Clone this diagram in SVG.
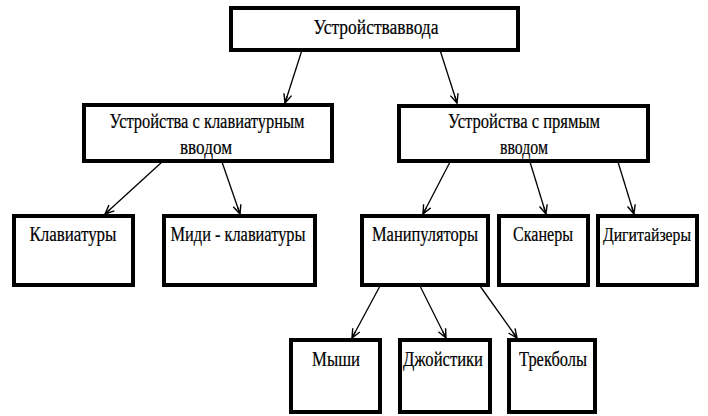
<svg xmlns="http://www.w3.org/2000/svg" width="708" height="416" viewBox="0 0 708 416">
<defs>
<style>
.box{fill:#fff;stroke:#000;stroke-width:4}
.t{font-family:'Liberation Serif',serif;font-size:20px;fill:#000;text-anchor:middle;stroke:#000;stroke-width:0.2}
.c{stroke:#000;stroke-width:1.3;fill:none;marker-end:url(#ah)}
</style>
<marker id="ah" markerWidth="12" markerHeight="10" refX="10" refY="5" orient="auto" markerUnits="userSpaceOnUse">
<path d="M1,1 L10,5 L1,9 M3,5 L10,5" fill="none" stroke="#000" stroke-width="1.4"/>
</marker>
</defs>
<rect width="708" height="416" fill="#fff"/>
<g id="connectors">
<line class="c" x1="302" y1="50" x2="285" y2="103"/>
<line class="c" x1="440" y1="50" x2="457" y2="103"/>
<line class="c" x1="162" y1="162" x2="105" y2="214"/>
<line class="c" x1="222" y1="162" x2="240" y2="214"/>
<line class="c" x1="450" y1="162" x2="423" y2="214"/>
<line class="c" x1="530" y1="162" x2="546" y2="214"/>
<line class="c" x1="618" y1="162" x2="634" y2="214"/>
<line class="c" x1="380" y1="286" x2="352" y2="338"/>
<line class="c" x1="420" y1="286" x2="446" y2="338"/>
<line class="c" x1="480" y1="286" x2="517" y2="338"/>
</g>
<g id="n-input">
<rect class="box" x="231" y="8" width="287" height="42"/>
<text class="t" x="376" y="34" textLength="125" lengthAdjust="spacingAndGlyphs">Устройстваввода</text>
</g>
<g id="n-keyboard-input">
<rect class="box" x="84" y="105" width="248" height="56"/>
<text class="t" x="207" y="128" textLength="195" lengthAdjust="spacingAndGlyphs">Устройства с клавиатурным</text>
<text class="t" x="206" y="154" textLength="52" lengthAdjust="spacingAndGlyphs">вводом</text>
</g>
<g id="n-direct-input">
<rect class="box" x="399" y="106" width="249" height="55"/>
<text class="t" x="524" y="128" textLength="152" lengthAdjust="spacingAndGlyphs">Устройства с прямым</text>
<text class="t" x="524" y="154" textLength="48" lengthAdjust="spacingAndGlyphs">вводом</text>
</g>
<g id="n-keyboards">
<rect class="box" x="14" y="216" width="119" height="69"/>
<text class="t" x="73" y="241" textLength="87" lengthAdjust="spacingAndGlyphs">Клавиатуры</text>
</g>
<g id="n-midi">
<rect class="box" x="164" y="216" width="151" height="69"/>
<text class="t" x="238" y="241" textLength="135" lengthAdjust="spacingAndGlyphs">Миди - клавиатуры</text>
</g>
<g id="n-manip">
<rect class="box" x="362" y="216" width="126" height="69"/>
<text class="t" x="425" y="241" textLength="106" lengthAdjust="spacingAndGlyphs">Манипуляторы</text>
</g>
<g id="n-scanners">
<rect class="box" x="499" y="216" width="89" height="69"/>
<text class="t" x="543" y="241" textLength="60" lengthAdjust="spacingAndGlyphs">Сканеры</text>
</g>
<g id="n-digitizers">
<rect class="box" x="598" y="216" width="99" height="69"/>
<text class="t" x="647" y="241" style="font-size:18px" textLength="88" lengthAdjust="spacingAndGlyphs">Дигитайзеры</text>
</g>
<g id="n-mice">
<rect class="box" x="291" y="340" width="89" height="72"/>
<text class="t" x="336" y="366" textLength="48" lengthAdjust="spacingAndGlyphs">Мыши</text>
</g>
<g id="n-joysticks">
<rect class="box" x="400" y="340" width="90" height="72"/>
<text class="t" x="443" y="366" textLength="80" lengthAdjust="spacingAndGlyphs">Джойстики</text>
</g>
<g id="n-trackballs">
<rect class="box" x="509" y="340" width="86" height="72"/>
<text class="t" x="553" y="366" textLength="68" lengthAdjust="spacingAndGlyphs">Трекболы</text>
</g>
</svg>
